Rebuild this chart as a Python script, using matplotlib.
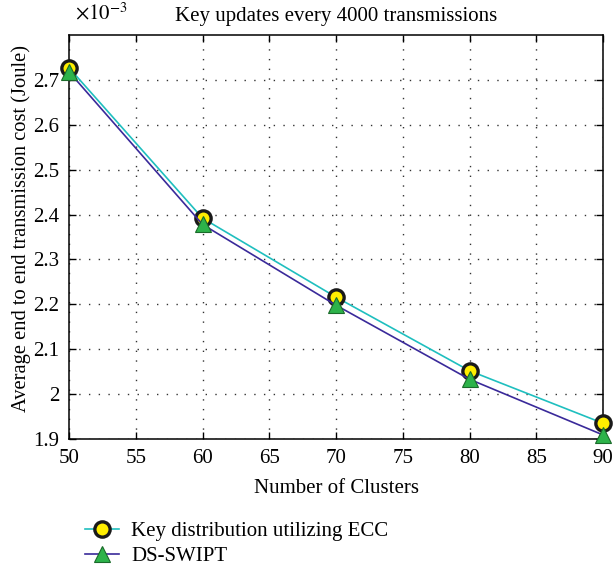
import matplotlib.pyplot as plt
from matplotlib.ticker import FuncFormatter

plt.rcParams['font.family'] = ['Liberation Serif', 'DejaVu Serif']
plt.rcParams['mathtext.fontset'] = 'stix'

# Data (cost in units of 1e-3 Joule)
clusters = [50, 60, 70, 80, 90]
ecc_cost = [2.727, 2.392, 2.216, 2.052, 1.935]
swipt_cost = [2.718, 2.378, 2.198, 2.033, 1.909]

fig = plt.figure(figsize=(6.16, 5.69), dpi=100)
ax = fig.add_axes([0.112, 0.2285, 0.867, 0.71])

ax.plot(clusters, ecc_cost, color='#1fbfbf', lw=1.2, marker='o', ms=11,
        mfc='#ffee00', mec='#1a1a1a', mew=2.4, label='Key distribution utilizing ECC',
        zorder=3, clip_on=False)
ax.plot(clusters, swipt_cost, color='#3a2a9a', lw=1.2, marker='^', ms=11,
        mfc='#2db34a', mec='#1a6a2a', mew=0.8, label='DS-SWIPT', zorder=4, clip_on=False)

ax.set_xlim(50, 90)
ax.set_ylim(1.9, 2.8)
ax.set_xticks(range(50, 91, 5))
ax.set_yticks([1.9, 2.0, 2.1, 2.2, 2.3, 2.4, 2.5, 2.6, 2.7])
ax.yaxis.set_major_formatter(FuncFormatter(lambda v, p: '%g' % round(v, 2)))
ax.tick_params(direction='in', top=True, right=True, labelsize=15, length=5, width=1, pad=7)
ax.grid(True, linestyle=(0, (1, 6)), color='#333333', lw=1.0)
for s in ax.spines.values():
    s.set_linewidth(1.1)

ax.set_xlabel('Number of Clusters', fontsize=15, labelpad=8)
ax.set_ylabel('Average end to end transmission cost (Joule)', fontsize=14.8)
ax.yaxis.set_label_coords(-0.072, 0.52)
ax.set_title('Key updates every 4000 transmissions', fontsize=15, pad=10)
fig.text(0.122, 0.958, r'$\times10^{-3}$', fontsize=15, va='bottom', ha='left')

fig.legend(loc='upper left', bbox_to_anchor=(0.125, 0.098), frameon=False,
           fontsize=15, handlelength=1.6, handletextpad=0.6, borderaxespad=0,
           labelspacing=0.25)

fig.savefig('out.png', dpi=100)
